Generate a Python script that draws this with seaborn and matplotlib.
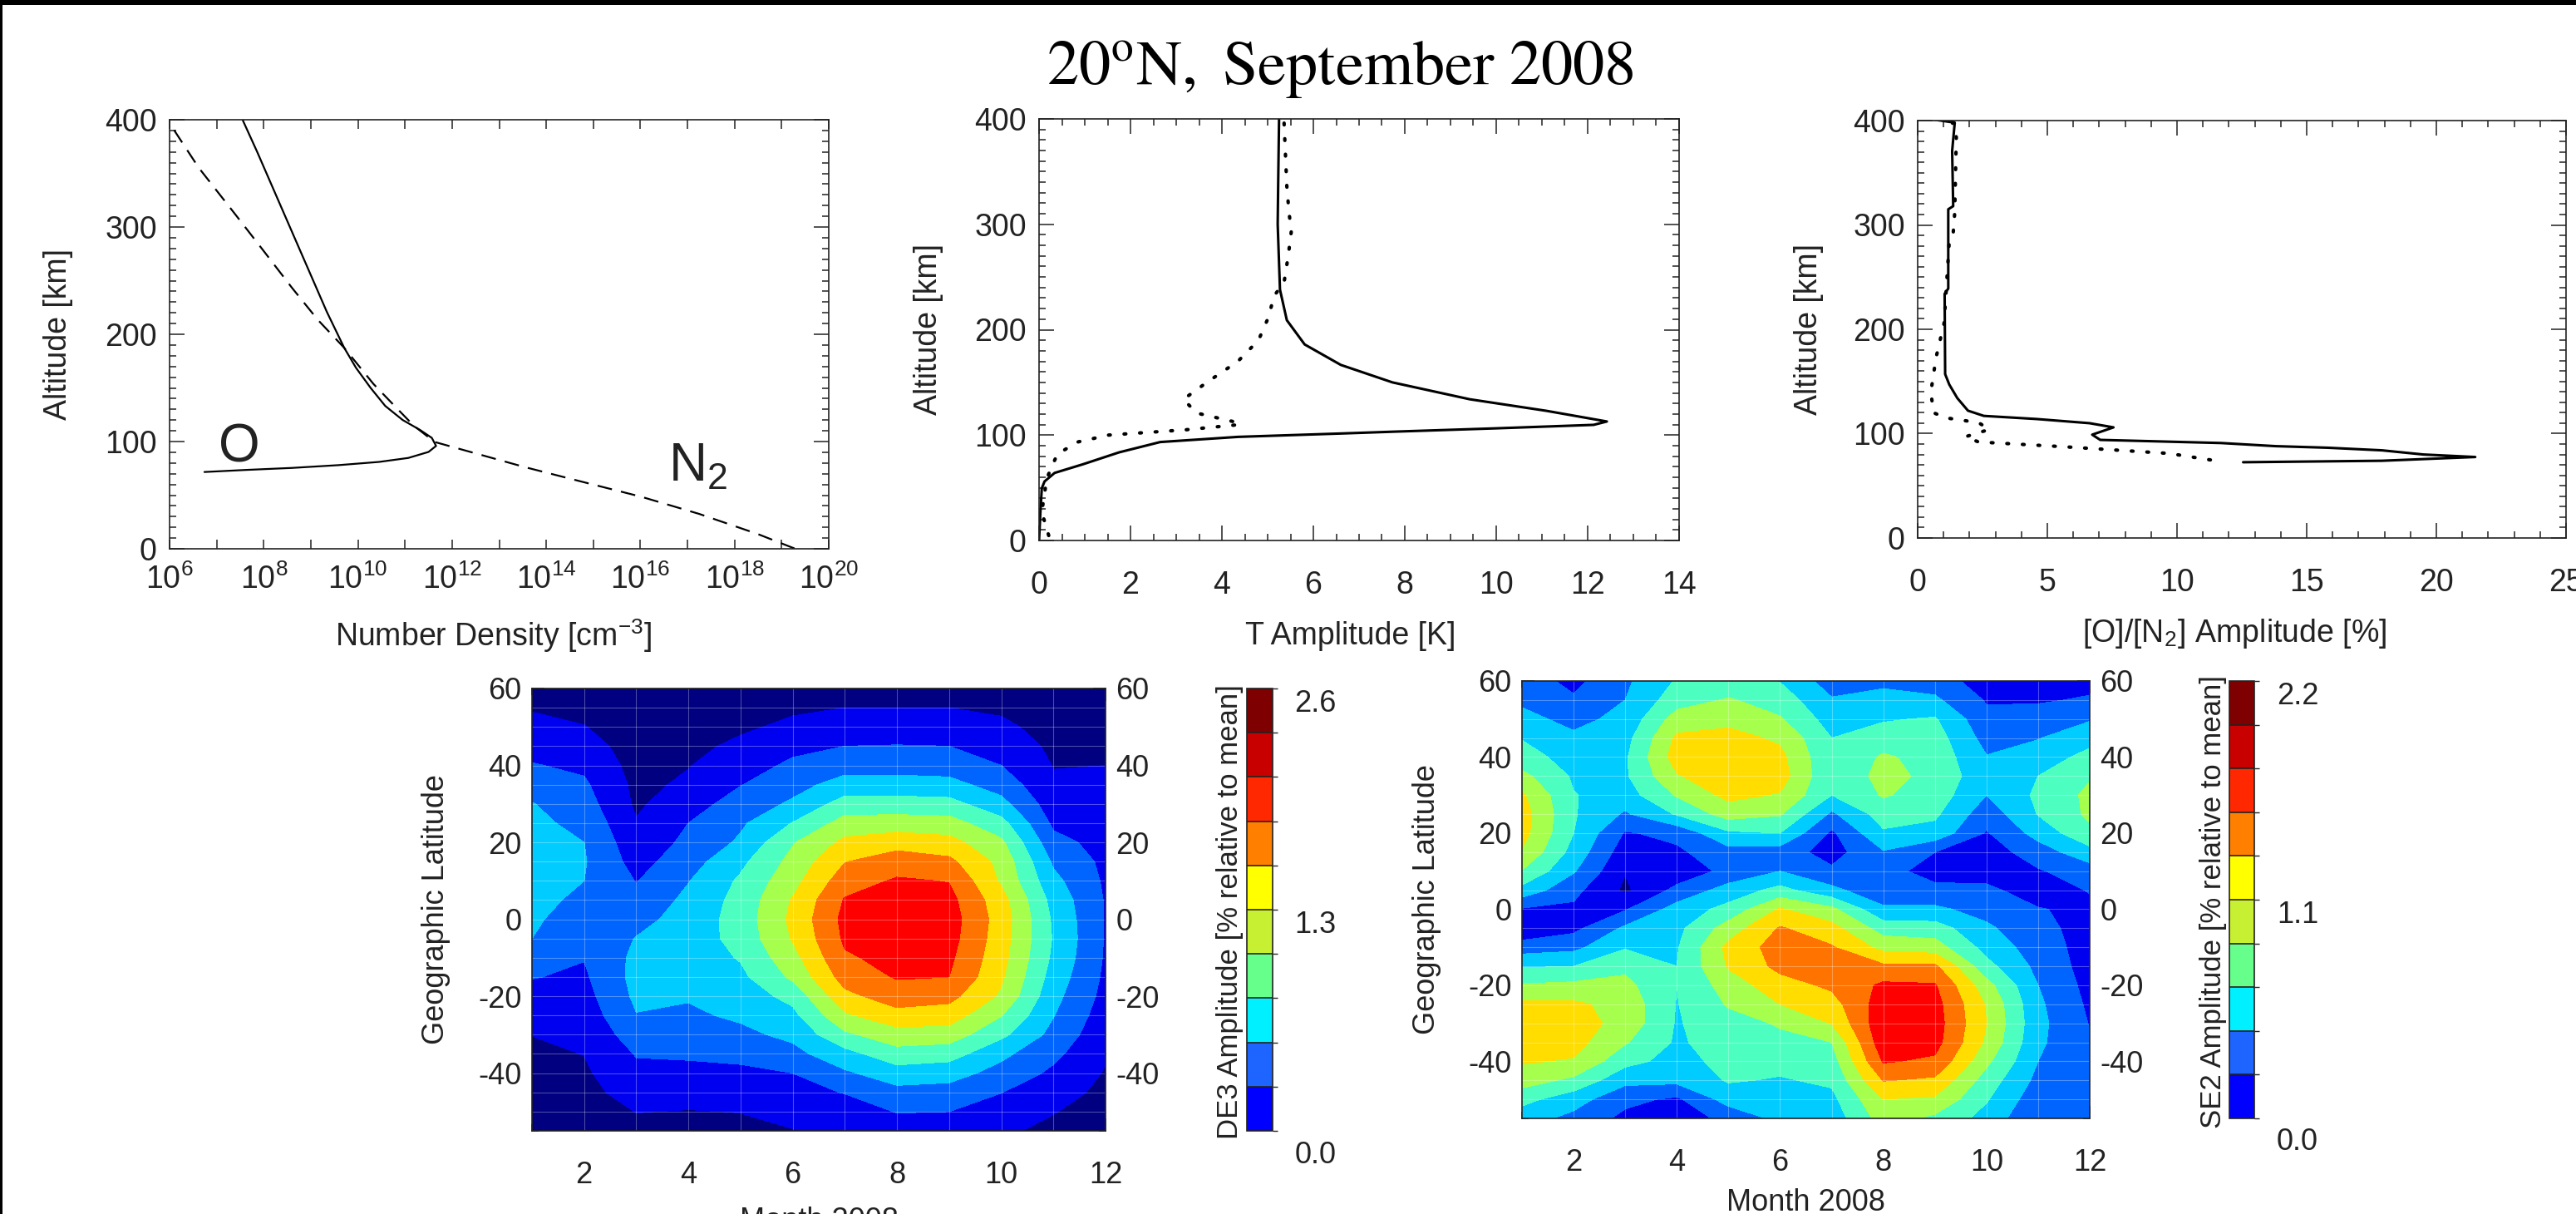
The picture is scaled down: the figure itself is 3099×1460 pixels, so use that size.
import matplotlib.pyplot as plt
import numpy as np
import seaborn as sns
from matplotlib.cm import ScalarMappable
from matplotlib.colors import BoundaryNorm, ListedColormap
from matplotlib.patches import Rectangle
from matplotlib.ticker import FixedLocator, MultipleLocator, NullFormatter

W, H = 3099, 1460

# --- top row: vertical profiles (altitude in km) ---
# number density, log10(cm^-3)
alt_o = [400, 370.1, 332.8, 295.5, 258.2, 220.9, 187.3, 168.7, 150, 133.2, 120.1,
         110.8, 103.4, 95.9, 90.3, 84.7, 81, 78, 75.4, 73.5, 71.6]
logn_o = [7.55, 7.86, 8.23, 8.6, 8.97, 9.34, 9.71, 9.96, 10.27, 10.58, 10.95,
          11.32, 11.57, 11.66, 11.5, 11.07, 10.45, 9.59, 8.6, 7.61, 6.74]
alt_n2 = [410, 390.7, 355.2, 310.4, 278.7, 243.3, 213.4, 187.3, 153.7, 131.3, 114.6,
          99.6, 76.1, 62.3, 48.5, 32.5, 13.8, 0]
logn_n2 = [5.85, 6.09, 6.62, 7.42, 7.98, 8.6, 9.15, 9.71, 10.33, 10.82, 11.19,
           11.63, 13.55, 14.78, 16.02, 17.25, 18.49, 19.29]

# temperature amplitude [K]
alt_t = [400, 336, 300, 238, 209, 186, 166.6, 150, 134, 123, 112.9, 109.7, 106.4,
         103.2, 101.5, 98.3, 93.4, 83.6, 72.3, 64.1, 56, 49.5, 27, 0]
t_amp = [5.25, 5.23, 5.22, 5.27, 5.42, 5.81, 6.6, 7.73, 9.42, 11.1, 12.42, 12.13, 9.99,
         7.73, 6.6, 4.35, 2.65, 1.75, 0.96, 0.34, 0.12, 0.06, 0.03, 0.0]
alt_t_dot = [396, 336, 310, 294, 270, 245, 232, 212, 190, 170, 150, 134, 121, 113,
             110, 105, 100, 93.5, 82, 59, 27, 2]
t_amp_dot = [5.36, 5.42, 5.47, 5.52, 5.45, 5.36, 5.14, 5.02, 4.8, 4.35, 3.67, 3.16,
             3.44, 4.23, 4.4, 3.2, 1.52, 0.85, 0.4, 0.17, 0.06, 0.23]

# [O]/[N2] amplitude [%]
alt_r = [401, 398, 371, 318, 315, 239, 234, 157, 147, 134, 122, 117, 114, 110, 106,
         99, 94, 91, 88, 86.5, 84, 80, 77.6, 74, 72.6]
ratio_amp = [0.61, 1.43, 1.33, 1.37, 1.18, 1.18, 1.04, 1.06, 1.22, 1.53, 1.94, 2.55,
             4.59, 6.63, 7.55, 6.73, 7.04, 11.7, 13.8, 15.8, 17.9, 19.5, 21.5, 17.9, 12.55]
alt_r_dot = [399, 384, 312, 292, 285, 206, 173, 140, 120, 115, 110.5, 104, 97, 92,
             87.5, 81, 74]
ratio_amp_dot = [1.33, 1.49, 1.43, 1.37, 1.22, 1.02, 0.71, 0.51, 0.61, 1.12, 2.35,
                 2.76, 1.84, 2.35, 5.6, 9.7, 11.5]

# --- bottom row: monthly amplitude maps ---
months = list(range(1, 13))
lats = list(range(60, -60, -5))  # 60 ... -55

# DE3 amplitude, one list per month (latitudes 60 -> -55)
de3_by_month = [
    [.18, .24, .33, .43, .535, .66, .79, .84, .88, .9, .89, .86, .82, .78, .66, .53, .44, .35, .265, .2, .16, .13, .1, .1],
    [.12, .18, .27, .37, .47, .56, .63, .71, .78, .80, .78, .72, .65, .59, .53, .48, .43, .37, .32, .265, .22, .18, .14, .1],
    [.05, .08, .11, .14, .17, .2, .22, .28, .35, .42, .51, .6, .7, .79, .84, .86, .83, .77, .65, .535, .46, .37, .265, .2],
    [.1, .13, .17, .21, .25, .3, .41, .52, .58, .67, .77, .84, .88, .9, .89, .86, .8, .74, .65, .55, .46, .35, .25, .2],
    [.14, .18, .23, .3, .4, .51, .63, .74, .82, .98, 1.08, 1.13, 1.15, 1.13, 1.06, .98, .9, .82, .72, .58, .47, .37, .265, .2],
    [.18, .23, .3, .45, .57, .69, .82, 1.05, 1.28, 1.38, 1.47, 1.58, 1.62, 1.58, 1.47, 1.35, 1.12, .97, .84, .7, .52, .44, .34, .25],
    [.2, .26, .39, .52, .68, .88, 1.15, 1.40, 1.62, 1.81, 1.96, 2.1, 2.15, 2.12, 2.05, 1.93, 1.75, 1.52, 1.25, .95, .74, .53, .4, .3],
    [.2, .26, .38, .53, .68, .88, 1.15, 1.42, 1.72, 1.95, 2.11, 2.18, 2.22, 2.2, 2.15, 2.1, 1.95, 1.73, 1.45, 1.2, .92, .7, .53, .4],
    [.2, .26, .39, .52, .66, .86, 1.13, 1.40, 1.65, 1.88, 2.07, 2.16, 2.2, 2.18, 2.13, 2.08, 1.9, 1.69, 1.43, 1.15, .88, .68, .52, .42],
    [.16, .22, .31, .42, .52, .67, .86, 1.13, 1.35, 1.48, 1.52, 1.66, 1.7, 1.68, 1.65, 1.6, 1.52, 1.31, 1.1, .84, .69, .525, .4, .3],
    [.1, .13, .17, .21, .25, .3, .38, .47, .6, .74, .85, .95, 1.0, 1.02, .99, .93, .86, .79, .7, .58, .47, .36, .27, .2],
    [.08, .11, .15, .2, .26, .32, .36, .4, .43, .46, .48, .5, .5, .5, .49, .47, .44, .39, .34, .29, .24, .2, .16, .12],
]

# SE2 amplitude, one list per latitude (60 -> -55), months 1..12
se2_by_lat = [
    [0.55, 0.38, 0.62, 0.90, 0.95, 0.87, 0.55, 0.62, 0.55, 0.33, 0.30, 0.38],
    [0.62, 0.47, 0.66, 1.00, 1.12, 1.00, 0.68, 0.72, 0.70, 0.42, 0.42, 0.46],
    [0.72, 0.60, 0.72, 1.20, 1.25, 1.12, 0.78, 0.86, 0.90, 0.50, 0.52, 0.64],
    [0.87, 0.70, 0.80, 1.36, 1.40, 1.28, 0.88, 0.98, 0.98, 0.58, 0.65, 0.80],
    [0.96, 0.80, 0.85, 1.42, 1.48, 1.38, 0.90, 1.13, 1.02, 0.67, 0.76, 0.95],
    [1.16, 0.85, 0.85, 1.30, 1.48, 1.42, 0.90, 1.18, 1.03, 0.74, 0.88, 1.08],
    [1.35, 0.89, 0.78, 1.12, 1.38, 1.30, 0.88, 1.12, 1.00, 0.66, 0.92, 1.15],
    [1.42, 0.90, 0.63, 0.90, 1.20, 1.12, 0.62, 0.98, 0.92, 0.53, 0.89, 1.14],
    [1.40, 0.88, 0.42, 0.50, 0.84, 0.88, 0.40, 0.85, 0.80, 0.42, 0.74, 1.05],
    [1.30, 0.80, 0.32, 0.40, 0.58, 0.55, 0.35, 0.64, 0.44, 0.33, 0.55, 0.80],
    [1.09, 0.68, 0.23, 0.30, 0.50, 0.66, 0.48, 0.52, 0.35, 0.36, 0.42, 0.55],
    [0.80, 0.50, 0.18, 0.50, 0.75, 0.95, 0.72, 0.50, 0.50, 0.48, 0.35, 0.45],
    [0.42, 0.40, 0.42, 0.75, 0.95, 1.34, 1.15, 0.70, 0.70, 0.58, 0.45, 0.40],
    [0.25, 0.38, 0.70, 0.82, 1.20, 1.56, 1.40, 1.00, 0.98, 0.70, 0.50, 0.36],
    [0.55, 0.60, 0.86, 0.86, 1.38, 1.64, 1.56, 1.25, 1.20, 0.80, 0.55, 0.35],
    [0.86, 0.88, 1.05, 0.88, 1.34, 1.60, 1.66, 1.58, 1.58, 0.95, 0.60, 0.35],
    [1.12, 1.15, 1.16, 0.88, 1.20, 1.45, 1.58, 1.80, 1.78, 1.18, 0.66, 0.37],
    [1.36, 1.36, 1.24, 0.87, 1.12, 1.32, 1.45, 1.88, 1.84, 1.30, 0.70, 0.40],
    [1.45, 1.42, 1.24, 0.86, 1.02, 1.12, 1.33, 1.92, 1.86, 1.32, 0.72, 0.43],
    [1.45, 1.40, 1.12, 0.85, 0.98, 1.05, 1.10, 1.90, 1.84, 1.28, 0.70, 0.46],
    [1.34, 1.30, 0.95, 0.80, 0.95, 0.95, 1.00, 1.78, 1.72, 1.15, 0.66, 0.50],
    [1.20, 1.05, 0.72, 0.72, 0.90, 0.86, 0.92, 1.55, 1.50, 1.00, 0.60, 0.50],
    [0.95, 0.75, 0.50, 0.40, 0.75, 0.78, 0.82, 1.32, 1.28, 0.90, 0.52, 0.48],
    [0.75, 0.60, 0.38, 0.32, 0.50, 0.72, 0.75, 1.20, 1.05, 0.80, 0.45, 0.45],
]

de3_levels = np.linspace(0, 2.6, 11)
se2_levels = np.linspace(0, 2.2, 11)
de3_ticks = ["2.6", "1.3", "0.0"]
se2_ticks = ["2.2", "1.1", "0.0"]

fill_colors = ["#000080", "#0000F0", "#0064FF", "#00CCFF", "#4CFFC0",
               "#A6FF4D", "#FFDD00", "#FF7300", "#FF0000", "#C00000"]
bar_colors = ["#0000FF", "#1E64FF", "#00F0FF", "#66FF8C", "#C8F032",
              "#FFFF00", "#FF8000", "#FF2800", "#C80000", "#7F0000"]

INK = "#222222"
sns.set_theme(style="ticks")
plt.rcParams["font.family"] = ["Liberation Sans", "DejaVu Sans"]
plt.rcParams["mathtext.fontset"] = "stix"
plt.rcParams["axes.unicode_minus"] = False
plt.rcParams["text.color"] = INK
plt.rcParams["axes.edgecolor"] = INK
plt.rcParams["axes.linewidth"] = 1.2

fig = plt.figure(figsize=(W / 100, H / 100), dpi=100)


def px_axes(left, top, right, bottom):
    return fig.add_axes([left / W, 1 - bottom / H, (right - left) / W, (bottom - top) / H])


def px_text(x, y, s, **kw):
    fig.text(x / W, 1 - y / H, s, ha="center", va="center", **kw)


def style_profile(ax, xpad):
    ax.set_ylim(0, 400)
    ax.yaxis.set_major_locator(MultipleLocator(100))
    ax.yaxis.set_minor_locator(MultipleLocator(10))
    ax.tick_params(which="both", direction="in", top=True, right=True,
                   width=1.1, colors=INK, labelsize=27)
    ax.tick_params(which="major", length=13)
    ax.tick_params(which="minor", length=6)
    ax.tick_params(axis="x", pad=xpad)
    ax.tick_params(axis="y", pad=11)
    ax.set_xlabel("")
    ax.set_ylabel("")


dots = dict(linestyle=(0, (0.5, 4)), lw=3.0, dash_capstyle="round")

# panel 1: number density
ax1 = px_axes(204, 144, 997, 660)
ax1.set_xscale("log")
sns.lineplot(x=10.0 ** np.array(logn_o), y=alt_o, sort=False, estimator=None,
             color="black", lw=1.6, ax=ax1)
sns.lineplot(x=10.0 ** np.array(logn_n2), y=alt_n2, sort=False, estimator=None,
             color="black", lw=1.6, linestyle=(0, (8, 5)), ax=ax1)
ax1.set_xlim(1e6, 1e20)
ax1.xaxis.set_major_locator(FixedLocator(10.0 ** np.arange(6, 21, 2)))
ax1.xaxis.set_minor_locator(FixedLocator(10.0 ** np.arange(7, 20, 2)))
ax1.xaxis.set_minor_formatter(NullFormatter())
style_profile(ax1, 13)
ax1.tick_params(axis="x", which="both", length=8)
ax1.text(10 ** 7.04, 81, "O", fontsize=46, ha="left", va="baseline")
ax1.text(10 ** 16.6, 63, r"$\mathdefault{N_{2}}$", fontsize=46, ha="left", va="baseline")

# panel 2: temperature amplitude
ax2 = px_axes(1250, 143, 2020, 650)
sns.lineplot(x=t_amp, y=alt_t, sort=False, estimator=None, color="black", lw=2.2, ax=ax2)
sns.lineplot(x=t_amp_dot, y=alt_t_dot, sort=False, estimator=None, color="black",
             ax=ax2, **dots)
ax2.set_xlim(0, 14)
ax2.xaxis.set_major_locator(MultipleLocator(2))
ax2.xaxis.set_minor_locator(MultipleLocator(0.5))
style_profile(ax2, 26)

# panel 3: [O]/[N2] amplitude
ax3 = px_axes(2307, 145, 3087, 647)
sns.lineplot(x=ratio_amp, y=alt_r, sort=False, estimator=None, color="black", lw=2.2, ax=ax3)
sns.lineplot(x=ratio_amp_dot, y=alt_r_dot, sort=False, estimator=None, color="black",
             ax=ax3, **dots)
ax3.set_xlim(0, 25)
ax3.xaxis.set_major_locator(MultipleLocator(5))
ax3.xaxis.set_minor_locator(MultipleLocator(1))
style_profile(ax3, 26)

px_text(70, 402, "Altitude [km]", rotation=90, fontsize=27)
px_text(1117, 396, "Altitude [km]", rotation=90, fontsize=27)
px_text(2176, 396, "Altitude [km]", rotation=90, fontsize=27)
px_text(594, 765, r"Number Density [cm$^{\mathdefault{-3}}$]", fontsize=27)
px_text(1625, 765, "T Amplitude [K]", fontsize=27)
px_text(2688, 762, r"[O]/[N$_{\mathdefault{2}}$] Amplitude [%]", fontsize=27)


def amplitude_map(ax, z, levels):
    ax.contourf(months, lats, z, levels=levels, colors=fill_colors)
    for m in months[1:-1]:
        ax.axvline(m, color="white", alpha=0.3, lw=0.8)
    for la in lats[1:]:
        ax.axhline(la, color="white", alpha=0.3, lw=0.8)
    ax.set_xlim(1, 12)
    ax.set_ylim(-55, 60)
    ax.set_xticks([2, 4, 6, 8, 10, 12])
    ax.xaxis.set_minor_locator(MultipleLocator(0.5))
    ax.set_yticks([-40, -20, 0, 20, 40, 60])
    ax.yaxis.set_minor_locator(MultipleLocator(5))
    ax.tick_params(which="both", direction="in", top=True, right=True, labelright=True,
                   width=1.1, colors=INK, labelsize=26)
    ax.tick_params(which="major", length=11)
    ax.tick_params(which="minor", length=6)
    ax.tick_params(axis="x", pad=26)
    ax.tick_params(axis="y", pad=9)
    for s in ax.spines.values():
        s.set_linewidth(1.2)


def level_bar(cax, levels, labels, label_x, title):
    sm = ScalarMappable(norm=BoundaryNorm(levels, len(bar_colors)),
                        cmap=ListedColormap(bar_colors))
    cb = fig.colorbar(sm, cax=cax, drawedges=True)
    cb.set_ticks([])
    cax.tick_params(length=0)
    cb.outline.set_linewidth(1.2)
    cb.outline.set_edgecolor(INK)
    cb.dividers.set_color(INK)
    cb.dividers.set_linewidth(1.2)
    for y, s in zip([0.965, 0.465, -0.055], labels):
        cax.text(label_x, y, s, transform=cax.transAxes, ha="left", va="center", fontsize=26)
    cax.text(-0.65, 0.496, title, transform=cax.transAxes, rotation=90,
             ha="center", va="center", fontsize=25)


cm1 = px_axes(640, 828, 1330, 1360)
amplitude_map(cm1, np.array(de3_by_month).T, de3_levels)
cb1 = px_axes(1500, 828, 1531, 1360)
level_bar(cb1, de3_levels, de3_ticks, 1.85, "DE3 Amplitude [% relative to mean]")

cm2 = px_axes(1831, 819, 2514, 1345)
amplitude_map(cm2, np.array(se2_by_lat), se2_levels)
cb2 = px_axes(2682, 819, 2712, 1345)
level_bar(cb2, se2_levels, se2_ticks, 1.9, "SE2 Amplitude [% relative to mean]")

px_text(525, 1094, "Geographic Latitude", rotation=90, fontsize=26)
px_text(1717, 1082, "Geographic Latitude", rotation=90, fontsize=26)
px_text(985, 1468, "Month 2008", fontsize=26)
px_text(2172, 1446, "Month 2008", fontsize=26)

px_text(1612, 83, r"$\mathrm{20^{o}N,\ September\ 2008}$", fontsize=55, color="black")

# scanner edge of the original page
fig.add_artist(Rectangle((0, 1 - 6 / H), 1, 6 / H, transform=fig.transFigure,
                         facecolor="black", edgecolor="none"))
fig.add_artist(Rectangle((0, 0), 3 / W, 1, transform=fig.transFigure,
                         facecolor="black", edgecolor="none"))

fig.savefig("out.png", dpi=100)
